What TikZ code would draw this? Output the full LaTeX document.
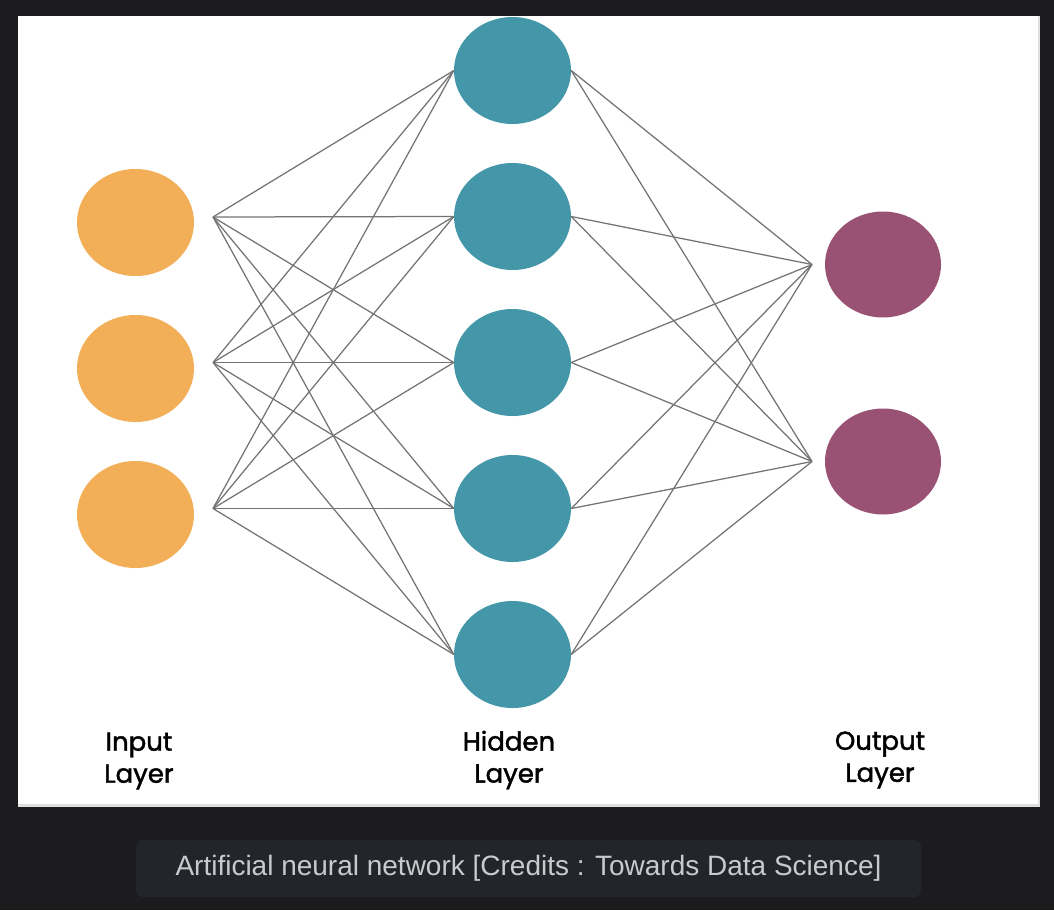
\documentclass[tikz,border=0pt]{standalone}
\usepackage{fontspec}
\usetikzlibrary{shapes.geometric}
\newfontfamily\capfont{Liberation Sans}
\newfontfamily\labfont[FakeBold=1.6]{Poppins}
\definecolor{bgdark}{HTML}{1C1C1E}
\definecolor{capbg}{HTML}{24252A}
\definecolor{captxt}{HTML}{C9CACD}
\definecolor{rimgrey}{HTML}{E0E0E0}
\definecolor{inorange}{HTML}{F2AF57}
\definecolor{hidteal}{HTML}{4397A8}
\definecolor{outpurple}{HTML}{9A5274}
\definecolor{wiregrey}{HTML}{747474}
\tikzset{
  neuron/.style={ellipse, draw=none, inner sep=0pt, minimum width=117pt, minimum height=107pt},
  inneuron/.style={neuron, fill=inorange},
  hidneuron/.style={neuron, fill=hidteal},
  outneuron/.style={neuron, fill=outpurple, minimum width=116pt, minimum height=106pt},
  wire/.style={draw=wiregrey, line width=1.25pt},
  layerlabel/.style={align=center, text=black, font=\labfont\fontsize{26}{32}\selectfont, inner sep=0pt},
  capbox/.style={fill=capbg, rounded corners=7pt, minimum width=785pt, minimum height=57pt, inner sep=0pt,
     text=captxt, font=\capfont\fontsize{28}{32}\selectfont}
}
\begin{document}
\begin{tikzpicture}[x=1pt,y=-1pt]
\fill[bgdark] (0,0) rectangle (1054,910);
\useasboundingbox (0,0) rectangle (1054,910);
\fill[rimgrey] (18,16) rectangle (1040,807);
\fill[white] (18,16) rectangle (1038,804);

% input layer
\node[inneuron] (i1) at (135.5,222.5) {};
\node[inneuron] (i2) at (135.5,368.5) {};
\node[inneuron] (i3) at (135.5,514.5) {};
\coordinate (ip1) at (213,217);
\coordinate (ip2) at (213,362.5);
\coordinate (ip3) at (213,508.5);

% hidden layer
\node[hidneuron] (h1) at (512.5,70.5) {};
\node[hidneuron] (h2) at (512.5,216.5) {};
\node[hidneuron] (h3) at (512.5,362.5) {};
\node[hidneuron] (h4) at (512.5,508.5) {};
\node[hidneuron] (h5) at (512.5,654.5) {};

% output layer
\node[outneuron] (o1) at (883,264.5) {};
\node[outneuron] (o2) at (883,461.5) {};
\coordinate (op1) at (812,264.5);
\coordinate (op2) at (812,461.5);

% connections
\foreach \i in {1,2,3}{
  \foreach \h in {1,...,5}{
    \draw[wire] (ip\i) -- (h\h.west);
  }
}
\foreach \h in {1,...,5}{
  \foreach \o in {1,2}{
    \draw[wire] (h\h.east) -- (op\o);
  }
}

% labels
\node[layerlabel] (lin) at (139,761) {Input\\Layer};
\node[layerlabel] (lhid) at (509,760) {Hidden\\Layer};
\node[layerlabel] (lout) at (880,760) {Output\\Layer};

% caption
\node[capbox] (cap) at (528.5,868.5) {Artificial neural network [Credits : Towards Data Science]};
\end{tikzpicture}
\end{document}
